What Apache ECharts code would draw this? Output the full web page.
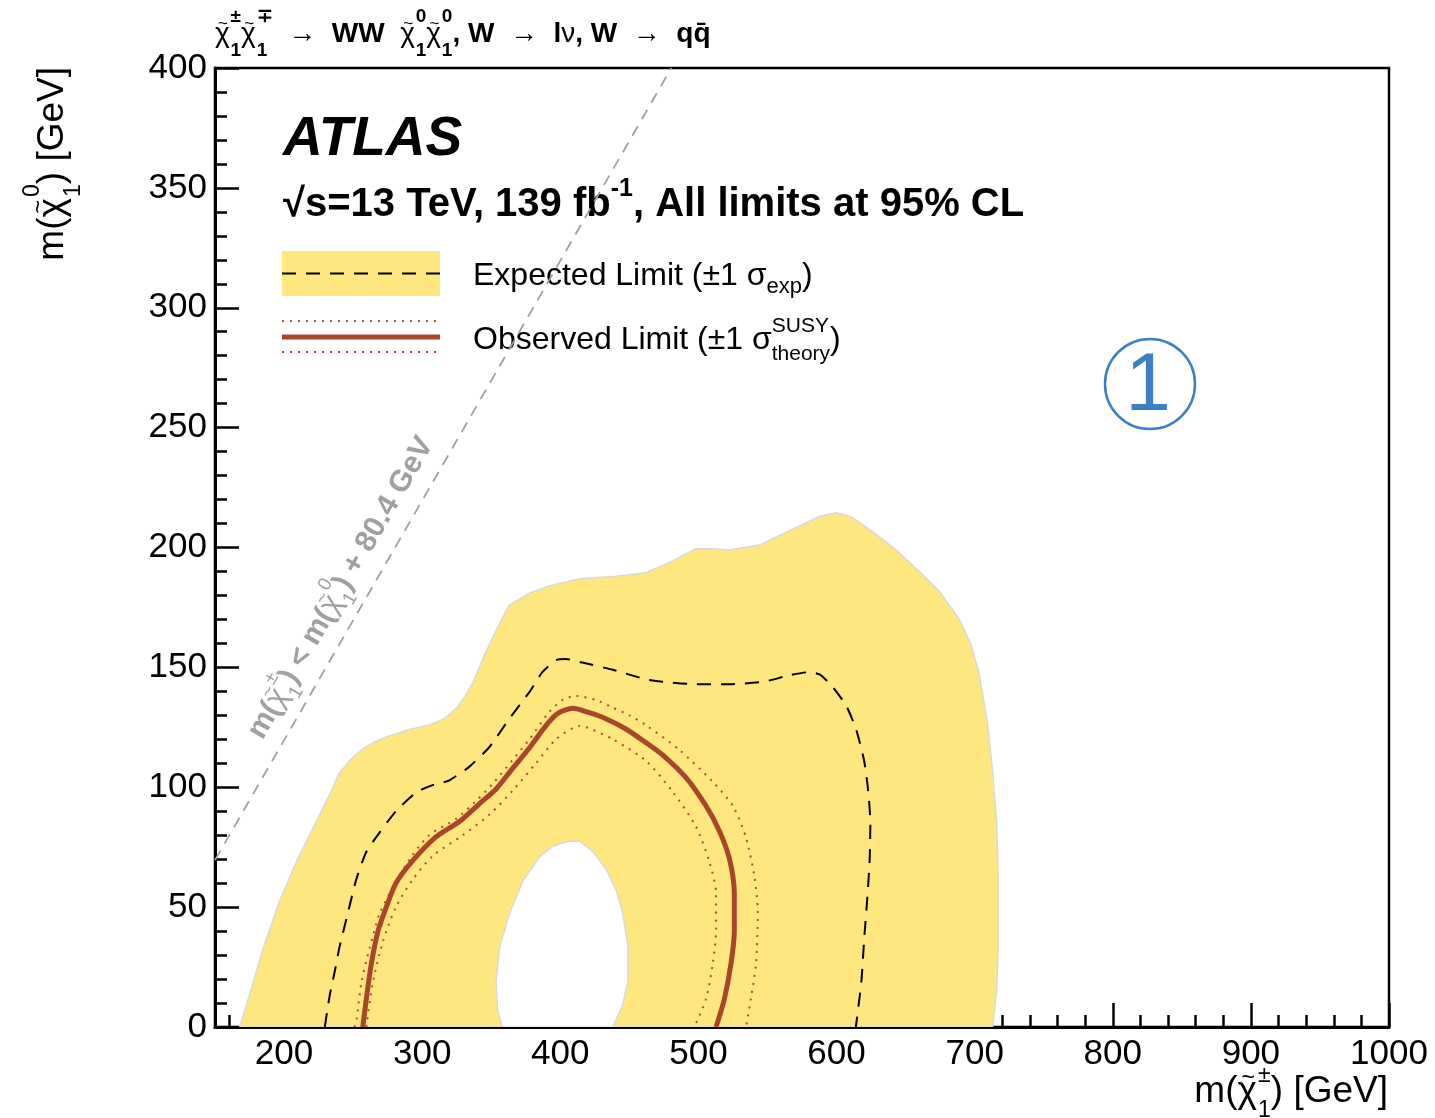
<!DOCTYPE html>
<html>
<head>
<meta charset="utf-8">
<title>WW limits</title>
<script src="https://cdn.jsdelivr.net/npm/echarts@6/dist/echarts.min.js"></script>
<style>
  html, body { margin: 0; padding: 0; background: #fff; }
  #chart { width: 1435px; height: 1118px; }
</style>
</head>
<body>
<div id="chart"></div>
<script>
// ---------------- data (GeV) ----------------
// Expected limit +/-1 sigma band: outer edge
const bandOuterX = [168, 185, 197, 209, 221, 233, 240, 249, 257, 266, 274, 290, 305, 316, 325, 331, 337, 345, 354, 363, 378, 392, 414, 440, 462, 480, 490, 498, 510, 522, 544, 566, 588, 600, 610, 619, 632, 643, 660, 674, 689, 697, 703, 709, 713, 716, 717, 717, 716, 713];
const bandOuterY = [0, 33, 53, 69, 83, 97, 106, 112, 116, 119, 121, 124, 126, 128.5, 133, 138, 144, 155, 166, 176, 181, 184, 187, 188, 189.5, 194, 197, 199.5, 199.5, 199, 201, 207, 213, 214.5, 213, 209.5, 204, 199, 190, 182, 170, 160, 148, 128, 107, 85, 63, 34, 16, 0];
// Expected limit +/-1 sigma band: inner edge (excluded hole)
const bandInnerX = [358, 354.7, 353.5, 356, 363, 373, 385, 395, 406, 414, 424, 433, 440.5, 445, 449, 449, 445, 438];
const bandInnerY = [0, 7, 19, 33, 47, 61, 71, 75.5, 77.5, 77.5, 73, 66, 57, 48, 34, 19, 9, 0];
// Expected limit
const expX = [229.5, 233, 237, 240, 246, 252, 259.5, 269, 281, 296, 308, 315, 320, 334, 349, 363, 378, 387, 397, 404, 416, 438, 462, 474, 498, 522, 547, 566, 580, 588, 597, 607, 614, 620, 623, 624.5, 624, 622.5, 620, 618, 614];
const expY = [0, 13, 24, 33, 47, 61, 73, 81, 90, 98, 101, 102, 103, 108.5, 117, 128.5, 140, 148, 153, 153.5, 152, 149, 145, 144, 143, 143, 144, 146.7, 148, 147, 142, 134, 124.5, 111, 98, 85, 70, 55.5, 36.5, 19, 0];
// Observed limit
const obsX = [257, 259.5, 263, 268, 274, 281, 293, 310, 327, 341, 353.5, 365.5, 377.6, 389.6, 398, 409, 421, 433, 447.5, 462, 474, 491, 505.5, 515, 522.4, 526, 526, 523.6, 518.8, 512.8];
const obsY = [0, 11.4, 25.7, 40, 50, 60, 69.3, 79.3, 85.7, 92.9, 99.3, 107.9, 116.4, 125.7, 130.7, 132.9, 131.1, 128.6, 124.3, 118.6, 113.5, 104, 92.2, 82, 70.3, 55.6, 40, 26.4, 11.7, 0];
// Observed limit, +1 sigma theory
const obsUpX = [251, 252.5, 256, 262, 269, 279, 291, 305, 325, 339, 351, 365.5, 377.6, 392, 401.7, 411.3, 425.8, 438, 450, 462, 486, 510, 525, 534.4, 540.5, 543, 541.7, 538, 534.5];
const obsUpY = [0, 3, 18.6, 33, 47, 58.6, 70, 80, 87, 94.3, 101.4, 111.4, 120, 131.4, 136.4, 138.1, 136.4, 133.2, 130, 125.9, 115.7, 102.5, 92.2, 79, 63, 48.3, 26.4, 11.7, 0];
// Observed limit, -1 sigma theory
const obsDownX = [259.5, 264.3, 271.6, 281, 293, 307.7, 329.4, 348.7, 365.5, 382.4, 397, 413.8, 438, 462, 481.4, 498.3, 508, 512.8, 512.8, 510.4, 505.5, 497];
const obsDownY = [0, 18.6, 35.7, 50, 61.4, 71.4, 80, 88.6, 98.6, 110, 120, 125.5, 120, 111, 98.1, 83.5, 68.8, 55.6, 41, 26.4, 11.7, 0];
// Kinematic boundary m(chargino) = m(neutralino) + 80.4 GeV
const kinX = [150, 480.4];
const kinY = [69.6, 400];

// ---------------- styling helpers ----------------
const FONT = '"Liberation Sans", Arial, Helvetica, sans-serif';
const BAND = '#fee77f';
const OBS = '#a8452b';
const OBS_BAND = '#b3473a';
const GREY = '#a0a0a0';

const measureCtx = document.createElement('canvas').getContext('2d');
function fontStr(size, weight, italic) {
  return (italic ? 'italic ' : '') + (weight || 'normal') + ' ' + size + 'px ' + FONT;
}
function textW(t, size, weight, italic) {
  measureCtx.font = fontStr(size, weight, italic);
  return measureCtx.measureText(t).width;
}
function txt(x, y, t, font, color, align) {
  const a = align || 'left';
  return {
    type: 'text', x: x, y: y,
    style: { text: t, font: font, fill: color,
      textAlign: a, align: a, textVerticalAlign: 'middle', verticalAlign: 'middle' }
  };
}
// Lays out a label made of plain runs, a tilde-chi glyph and stacked super/subscript pairs.
function formula(parts, o) {
  const fs = o.size, col = o.color || '#000';
  const sfs = Math.round(fs * (o.scriptScale || 0.62));
  const supOff = (o.supOff !== undefined ? o.supOff : -0.45) * fs;
  const subOff = (o.subOff !== undefined ? o.subOff : 0.35) * fs;
  const kids = [];
  let cx = 0;
  parts.forEach(p => {
    if (p && p.chi) {
      const w = textW('χ', fs, 'normal');
      kids.push(txt(cx, 0, 'χ', fontStr(fs, 'normal'), col));
      kids.push(txt(cx + w * 0.55, -0.36 * fs, '~', fontStr(Math.round(fs * 0.62), 'normal'), col, 'center'));
      cx += w + fs * 0.03;
    } else if (typeof p === 'string' || p.t !== undefined) {
      const t = typeof p === 'string' ? p : p.t;
      const w = (typeof p === 'object' && p.w) || o.weight || 'normal';
      kids.push(txt(cx, 0, t, fontStr(fs, w, o.italic), col));
      cx += textW(t, fs, w, o.italic);
    } else {
      const w = p.w || o.scriptWeight || o.weight || 'normal';
      let adv = 0;
      if (p.sup) {
        kids.push(txt(cx, supOff, p.sup, fontStr(sfs, w), col));
        adv = Math.max(adv, textW(p.sup, sfs, w));
      }
      if (p.sub) {
        kids.push(txt(cx, subOff, p.sub, fontStr(sfs, w), col));
        adv = Math.max(adv, textW(p.sub, sfs, w));
      }
      cx += adv + (p.pad || 0);
    }
  });
  const shift = o.align === 'right' ? -cx : (o.align === 'center' ? -cx / 2 : 0);
  kids.forEach(k => { k.x += shift; });
  return { type: 'group', x: o.x, y: o.y, rotation: o.rotation || 0, z: 100, children: kids };
}

const CHI = { chi: true };

function pairs(xs, ys) { return xs.map((x, i) => [x, ys[i]]); }

function polygonSeries(name, xs, ys, fill, z) {
  return {
    name: name, type: 'custom', coordinateSystem: 'cartesian2d', z: z, silent: true, clip: true,
    data: [[xs[0], ys[0]]],
    renderItem: (params, api) => ({
      type: 'polygon',
      shape: { points: xs.map((x, i) => api.coord([x, ys[i]])) },
      style: { fill: fill, stroke: '#d9d9d9', lineWidth: 1.5 }
    })
  };
}

function lineSeries(name, xs, ys, color, width, dash, z, smooth) {
  return {
    name: name, type: 'line', data: pairs(xs, ys), z: z,
    symbol: 'none', showSymbol: false, smooth: smooth, silent: true, clip: true,
    lineStyle: { color: color, width: width, type: dash, cap: 'butt', join: 'round' }
  };
}

// ---------------- chart ----------------
const chart = echarts.init(document.getElementById('chart'), null, { renderer: 'canvas' });

const tickStyle = { color: '#000', width: 2.5 };
const labelStyle = { fontFamily: FONT, fontSize: 35, color: '#000' };

const graphics = [
  // header
  formula([CHI, { sup: '±', sub: '1' }, CHI, { sup: '∓', sub: '1' }, '  →  ', { t: 'WW', w: 'bold' }, '  ',
    CHI, { sup: '0', sub: '1' }, CHI, { sup: '0', sub: '1' }, { t: ', W', w: 'bold' }, '  →  ',
    { t: 'l', w: 'bold' }, 'ν', { t: ', W', w: 'bold' }, '  →  ', { t: 'qq\u0304', w: 'bold' }],
    { x: 215, y: 34, size: 28, scriptWeight: 'bold', scriptScale: 0.68, supOff: -0.6, subOff: 0.6 }),
  // axis titles
  formula(['m(', CHI, { sup: '0', sub: '1' }, ') [GeV]'],
    { x: 53, y: 67, size: 37, align: 'right', rotation: Math.PI / 2, supOff: -0.55, subOff: 0.55 }),
  formula(['m(', CHI, { sup: '±', sub: '1' }, ') [GeV]'],
    { x: 1388, y: 1092, size: 37, align: 'right', supOff: -0.45, subOff: 0.5 }),
  // experiment labels
  { type: 'text', x: 283, y: 140, z: 100,
    style: { text: 'ATLAS', font: fontStr(55, 'bold', true), fill: '#000',
      textVerticalAlign: 'middle', verticalAlign: 'middle' } },
  formula(['√s=13 TeV, 139 fb', { sup: '-1' }, ', All limits at 95% CL'],
    { x: 283, y: 205, size: 40, weight: 'bold', supOff: -0.4 }),
  // legend: expected
  { type: 'rect', z: 90, shape: { x: 282, y: 251, width: 158, height: 45 }, style: { fill: BAND } },
  { type: 'line', z: 91, shape: { x1: 282, y1: 273.5, x2: 440, y2: 273.5 },
    style: { stroke: '#000', lineWidth: 2, lineDash: [14, 10] } },
  formula(['Expected Limit (±1 ', 'σ', { sub: 'exp' }, ')'],
    { x: 473, y: 276, size: 32, subOff: 0.35, scriptScale: 0.7 }),
  // legend: observed
  { type: 'line', z: 91, shape: { x1: 282, y1: 337, x2: 440, y2: 337 },
    style: { stroke: OBS, lineWidth: 5 } },
  { type: 'line', z: 91, shape: { x1: 282, y1: 321, x2: 440, y2: 321 },
    style: { stroke: OBS_BAND, lineWidth: 2, lineDash: [2, 6] } },
  { type: 'line', z: 91, shape: { x1: 282, y1: 352, x2: 440, y2: 352 },
    style: { stroke: OBS_BAND, lineWidth: 2, lineDash: [2, 6] } },
  formula(['Observed Limit (±1 ', 'σ', { sup: 'SUSY', sub: 'theory' }, ')'],
    { x: 473, y: 340, size: 32, supOff: -0.42, subOff: 0.45, scriptScale: 0.66 }),
  // kinematic boundary label
  formula([{ t: 'm(', w: 'bold' }, CHI, { sup: '±', sub: '1' }, { t: ') < m(', w: 'bold' }, CHI, { sup: '0', sub: '1' },
    { t: ') + 80.4 GeV', w: 'bold' }],
    { x: 341, y: 588, size: 30, align: 'center', rotation: Math.PI / 3, color: GREY, supOff: -0.5, subOff: 0.45 }),
  // region marker
  { type: 'circle', z: 100, shape: { cx: 1150, cy: 384, r: 45 },
    style: { fill: 'none', stroke: '#3b7fc5', lineWidth: 2.5 } },
  { type: 'text', x: 1148, y: 387, z: 100,
    style: { text: '1', font: fontStr(82, 'normal'), fill: '#3b7fc5',
      textAlign: 'center', align: 'center', textVerticalAlign: 'middle', verticalAlign: 'middle' } }
];

chart.setOption({
  animation: false,
  backgroundColor: '#fff',
  grid: { left: 215, right: 46, top: 68, bottom: 91, show: true, borderColor: '#000', borderWidth: 2.5,
    backgroundColor: 'transparent', containLabel: false },
  xAxis: {
    type: 'value', min: 150, max: 1000, splitNumber: 9,
    axisLine: { show: true, onZero: false, lineStyle: { color: '#000', width: 3 } },
    axisTick: { show: true, inside: true, length: 24, lineStyle: tickStyle },
    minorTick: { show: true, splitNumber: 5, length: 12, lineStyle: tickStyle },
    splitLine: { show: false }, minorSplitLine: { show: false },
    axisLabel: Object.assign({ margin: 10, showMinLabel: false,
      formatter: v => (v % 100 === 0 ? String(v) : '') }, labelStyle)
  },
  yAxis: {
    type: 'value', min: 0, max: 400, interval: 50,
    axisLine: { show: true, onZero: false, lineStyle: { color: '#000', width: 3 } },
    axisTick: { show: true, inside: true, length: 24, lineStyle: tickStyle },
    minorTick: { show: true, splitNumber: 5, length: 12, lineStyle: tickStyle },
    splitLine: { show: false }, minorSplitLine: { show: false },
    axisLabel: Object.assign({ margin: 8 }, labelStyle)
  },
  graphic: { elements: graphics },
  series: [
    polygonSeries('Expected band', bandOuterX, bandOuterY, BAND, 1),
    polygonSeries('Expected band hole', bandInnerX, bandInnerY, '#fff', 2),
    lineSeries('Kinematic limit', kinX, kinY, GREY, 1.8, [11, 8], 3, false),
    lineSeries('Expected limit', expX, expY, '#000', 2, [14, 10], 4, 0.2),
    lineSeries('Observed +1 sigma', obsUpX, obsUpY, OBS_BAND, 2, [2, 6], 5, 0.25),
    lineSeries('Observed -1 sigma', obsDownX, obsDownY, OBS_BAND, 2, [2, 6], 5, 0.25),
    lineSeries('Observed limit', obsX, obsY, OBS, 5, 'solid', 6, 0.25)
  ]
});
</script>
</body>
</html>
